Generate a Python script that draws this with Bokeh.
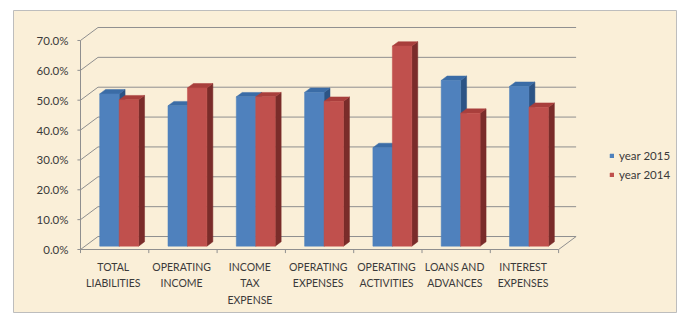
from bokeh.plotting import figure
from bokeh.models import Range1d, Legend, LegendItem
from bokeh.core.properties import value
from bokeh.embed import file_html
from bokeh.resources import INLINE

# ---------------- data ----------------
categories = ["TOTAL\nLIABILITIES", "OPERATING\nINCOME", "INCOME\nTAX\nEXPENSE",
              "OPERATING\nEXPENSES", "OPERATING\nACTIVITIES", "LOANS AND\nADVANCES",
              "INTEREST\nEXPENSES"]
year_2015 = [51.0, 47.0, 50.0, 51.5, 33.0, 55.5, 53.5]
year_2014 = [49.0, 53.0, 50.0, 48.5, 67.0, 44.5, 46.5]
series_names = ["year 2015", "year 2014"]
y_ticks = [0, 10, 20, 30, 40, 50, 60, 70]
y_tick_labels = ["0.0%", "10.0%", "20.0%", "30.0%", "40.0%", "50.0%", "60.0%", "70.0%"]

# ---------------- style / geometry ----------------
FONT = "Lato"
TEXT_COLOR = "#3a3a3a"
BG = "#faefd8"
GRID = "#8f8f8f"
FACE = {"year 2015": ("#4f81bd", "#3b6ca6", "#2c5485"),
        "year 2014": ("#c0504d", "#a83f3c", "#7a2c2a")}

DEPTH_X = 0.256      # full wall depth in category units
DEPTH_Y = 4.35       # full wall depth in percent units
FRONT_FRAC = 0.257   # bars' front plane, as fraction of wall depth
BAR_DEPTH = 0.34     # bars' depth, as fraction of wall depth
BAR_W = 0.285        # width of a single bar in category units

n = len(categories)
ox, oy = FRONT_FRAC * DEPTH_X, FRONT_FRAC * DEPTH_Y
bdx, bdy = BAR_DEPTH * DEPTH_X, BAR_DEPTH * DEPTH_Y

p = figure(width=682, height=313, output_backend="svg", toolbar_location=None,
           x_range=Range1d(-0.981, 8.726), y_range=Range1d(-21.43, 80.04),
           x_axis_type=None, y_axis_type=None,
           min_border_left=13, min_border_right=6, min_border_top=10, min_border_bottom=0)
p.background_fill_color = BG
p.border_fill_color = "white"
p.outline_line_color = "#bdbdbd"
p.xgrid.visible = False
p.ygrid.visible = False

# ---------------- walls ----------------
# back wall gridlines
p.segment(x0=[DEPTH_X] * len(y_ticks), y0=[t + DEPTH_Y for t in y_ticks],
          x1=[n + DEPTH_X] * len(y_ticks), y1=[t + DEPTH_Y for t in y_ticks],
          line_color=GRID, line_width=1)
# side wall diagonals
p.segment(x0=[0] * len(y_ticks), y0=y_ticks,
          x1=[DEPTH_X] * len(y_ticks), y1=[t + DEPTH_Y for t in y_ticks],
          line_color=GRID, line_width=1)
# floor front edge and right diagonal
p.segment(x0=[0, n], y0=[0, 0], x1=[n, n + DEPTH_X], y1=[0, DEPTH_Y],
          line_color=GRID, line_width=1)
# vertical axis line and ticks
p.segment(x0=[0], y0=[0], x1=[0], y1=[y_ticks[-1]], line_color=GRID, line_width=1)
p.segment(x0=[-0.045] * len(y_ticks), y0=y_ticks, x1=[0] * len(y_ticks), y1=y_ticks,
          line_color=GRID, line_width=1)
# category tick marks
p.segment(x0=list(range(n + 1)), y0=[0] * (n + 1), x1=list(range(n + 1)),
          y1=[-1.2] * (n + 1), line_color=GRID, line_width=1)

# ---------------- bars ----------------
legend_items = []
for s, (name, vals) in enumerate(zip(series_names, [year_2015, year_2014])):
    front, top, side = FACE[name]
    lefts = [i + 0.5 - BAR_W + s * BAR_W + ox for i in range(n)]
    rights = [l + BAR_W for l in lefts]
    # side faces
    p.patches(xs=[[r, r, r + bdx, r + bdx] for r in rights],
              ys=[[oy, v + oy, v + oy + bdy, oy + bdy] for v in vals],
              fill_color=side, line_color=side, line_width=0.5)
    # top faces
    p.patches(xs=[[l, r, r + bdx, l + bdx] for l, r in zip(lefts, rights)],
              ys=[[v + oy, v + oy, v + oy + bdy, v + oy + bdy] for v in vals],
              fill_color=top, line_color=top, line_width=0.5)
    # front faces
    r_front = p.quad(left=lefts, right=rights, bottom=[oy] * n,
                     top=[v + oy for v in vals],
                     fill_color=front, line_color=front, line_width=0.5)
    legend_items.append(LegendItem(label=name, renderers=[r_front]))

# ---------------- labels ----------------
p.text(x=[-0.176] * len(y_ticks), y=y_ticks, text=y_tick_labels,
       text_font=value(FONT), text_font_size="11.5px", text_color=TEXT_COLOR,
       text_align="right", text_baseline="middle")
p.text(x=[i + 0.48 for i in range(n)], y=[-3.9] * n, text=categories,
       text_font=value(FONT), text_font_size="10.5px", text_color=TEXT_COLOR,
       text_align="center", text_baseline="top", text_line_height=1.35)

legend = Legend(items=legend_items, location=(596, 132), orientation="vertical",
                glyph_width=5, glyph_height=5, label_standoff=5, spacing=5,
                label_height=14, padding=0, margin=0,
                label_text_font=FONT, label_text_font_size="11.5px",
                label_text_color=TEXT_COLOR,
                background_fill_alpha=0, border_line_color=None)
p.add_layout(legend)

open("out.html", "w").write(file_html(p, INLINE))
